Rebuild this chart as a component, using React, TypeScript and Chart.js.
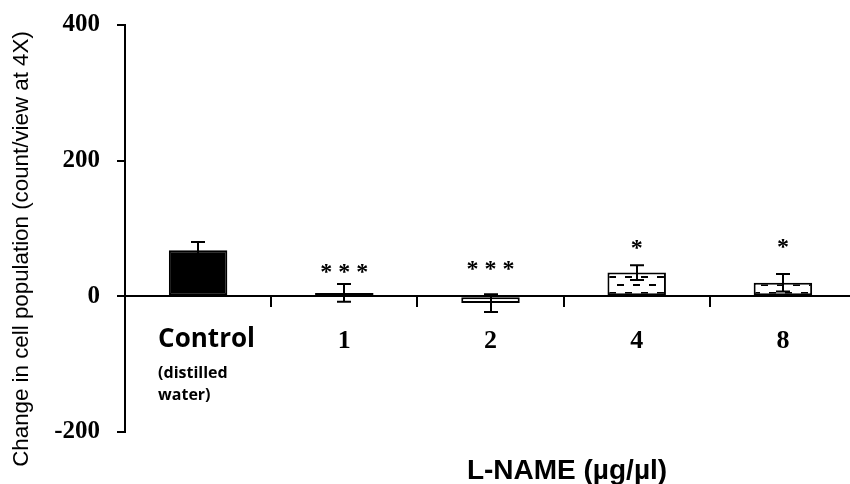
import { useEffect, useRef } from 'react';
import { Chart, registerables } from 'chart.js';

Chart.register(...registerables);

const categories = ['Control', '1', '2', '4', '8'];
const controlNote = ['(distilled', 'water)'];
const means = [68, 5, -10, 35, 20];
const errors = [12, 13, 13, 11, 13];
const significance = ['', '* * *', '* * *', '*', '*'];
const significanceY = [null, 43, 47, 78, 80];
const yTickValues = [-200, 0, 200, 400];
const yTitle = 'Change in cell population (count/view at 4X)';
const xTitle = 'L-NAME (\u00b5g/\u00b5l)';

function makeDashPattern(ctx: CanvasRenderingContext2D): CanvasPattern | string {
  const c = document.createElement('canvas');
  c.width = 16;
  c.height = 16;
  const g = c.getContext('2d');
  if (!g) return '#ffffff';
  g.fillStyle = '#ffffff';
  g.fillRect(0, 0, 16, 16);
  g.fillStyle = '#000000';
  g.fillRect(1, 4, 7, 2);
  g.fillRect(9, 12, 7, 2);
  return ctx.createPattern(c, 'repeat') || '#ffffff';
}

const annotations = {
  id: 'annotations',
  afterDatasetsDraw(chart: any) {
    const { ctx } = chart;
    const y = chart.scales.y;
    const meta = chart.getDatasetMeta(0);
    ctx.save();
    ctx.strokeStyle = '#000000';
    ctx.lineWidth = 2;
    meta.data.forEach((bar: any, i: number) => {
      const x = Math.round(bar.x);
      const yt = y.getPixelForValue(means[i] + errors[i]);
      const yb = y.getPixelForValue(means[i] - errors[i]);
      ctx.beginPath();
      ctx.moveTo(x, yt);
      ctx.lineTo(x, yb);
      ctx.moveTo(x - 7, yt);
      ctx.lineTo(x + 7, yt);
      ctx.moveTo(x - 7, yb);
      ctx.lineTo(x + 7, yb);
      ctx.stroke();
    });
    ctx.restore();
  },
  afterDraw(chart: any) {
    const { ctx } = chart;
    const x = chart.scales.x;
    const y = chart.scales.y;
    const zero = y.getPixelForValue(0);
    ctx.save();
    ctx.fillStyle = '#000000';

    // significance marks
    ctx.font = 'bold 24px "Liberation Serif"';
    ctx.textAlign = 'center';
    ctx.textBaseline = 'alphabetic';
    significance.forEach((s, i) => {
      const v = significanceY[i];
      if (!s || v === null) return;
      ctx.fillText(s, x.getPixelForValue(i), y.getPixelForValue(v) + 11.5);
    });

    // Control label + note
    const cx = x.getPixelForValue(0) - 40;
    ctx.textAlign = 'left';
    ctx.font = 'bold 26px "Open Sans"';
    ctx.fillText(categories[0], cx, zero + 51);
    ctx.font = 'bold 16px "Open Sans"';
    controlNote.forEach((line, k) => {
      ctx.fillText(line, cx, zero + 82 + k * 22);
    });

    // x title
    ctx.textAlign = 'center';
    ctx.font = 'bold 28px "Liberation Sans"';
    ctx.fillText(xTitle, 567, zero + 183);

    // y title
    ctx.save();
    ctx.translate(28, 249);
    ctx.rotate(-Math.PI / 2);
    ctx.font = '20px "Liberation Sans"';
    const w = ctx.measureText(yTitle).width;
    const size = (20 * 436) / w;
    ctx.font = `${size}px "Liberation Sans"`;
    ctx.textAlign = 'center';
    ctx.textBaseline = 'alphabetic';
    ctx.fillText(yTitle, 0, 0);
    ctx.restore();

    ctx.restore();
  },
};

export default function App() {
  const ref = useRef<HTMLCanvasElement | null>(null);

  useEffect(() => {
    const canvas = ref.current;
    if (!canvas) return;
    const ctx = canvas.getContext('2d');
    if (!ctx) return;
    const pattern = makeDashPattern(ctx);
    const fills = ['#000000', '#ffffff', '#ffffff', pattern, pattern];

    const chart = new Chart(canvas, {
      type: 'bar',
      data: {
        labels: categories,
        datasets: [
          {
            data: means,
            backgroundColor: fills as any,
            borderColor: '#000000',
            borderWidth: 2,
            borderSkipped: false,
            barPercentage: 0.4,
            categoryPercentage: 1,
          },
        ],
      },
      options: {
        animation: false,
        responsive: false,
        maintainAspectRatio: false,
        layout: { padding: { left: 0, top: 25, right: 4, bottom: 52 } },
        plugins: {
          legend: { display: false },
          tooltip: { enabled: false },
        },
        scales: {
          x: {
            type: 'category',
            position: { y: 0 } as any,
            offset: true,
            afterFit: (scale: any) => {
              scale.paddingLeft = 0;
              scale.paddingRight = 0;
              scale.paddingTop = 0;
              scale.paddingBottom = 0;
            },
            grid: {
              display: true,
              offset: true,
              drawOnChartArea: false,
              drawTicks: true,
              tickLength: 10,
              color: '#000000',
              lineWidth: 2,
            },
            border: { display: true, color: '#000000', width: 2 },
            ticks: {
              color: '#000000',
              padding: 19,
              font: { family: 'Liberation Serif', weight: 'bold', size: 26 },
              callback: (_v: any, i: number) => (i === 0 ? '' : categories[i]),
            },
          },
          y: {
            min: -200,
            max: 400,
            afterFit: (scale: any) => {
              scale.width = 125;
              scale.paddingTop = 0;
              scale.paddingBottom = 0;
            },
            afterBuildTicks: (scale: any) => {
              scale.ticks = yTickValues.map((v) => ({ value: v }));
            },
            grid: {
              display: true,
              drawOnChartArea: false,
              drawTicks: true,
              tickLength: 8,
              color: '#000000',
              lineWidth: 2,
            },
            border: { display: true, color: '#000000', width: 2 },
            ticks: {
              color: '#000000',
              padding: 17,
              font: { family: 'Liberation Serif', weight: 'bold', size: 25 },
            },
          },
        },
      },
      plugins: [annotations],
    });

    return () => chart.destroy();
  }, []);

  return (
    <div
      style={{
        position: 'fixed',
        left: 0,
        top: 0,
        width: 850,
        height: 484,
        overflow: 'hidden',
        background: '#ffffff',
      }}
    >
      <canvas ref={ref} width={860} height={484} style={{ display: 'block' }} />
    </div>
  );
}
